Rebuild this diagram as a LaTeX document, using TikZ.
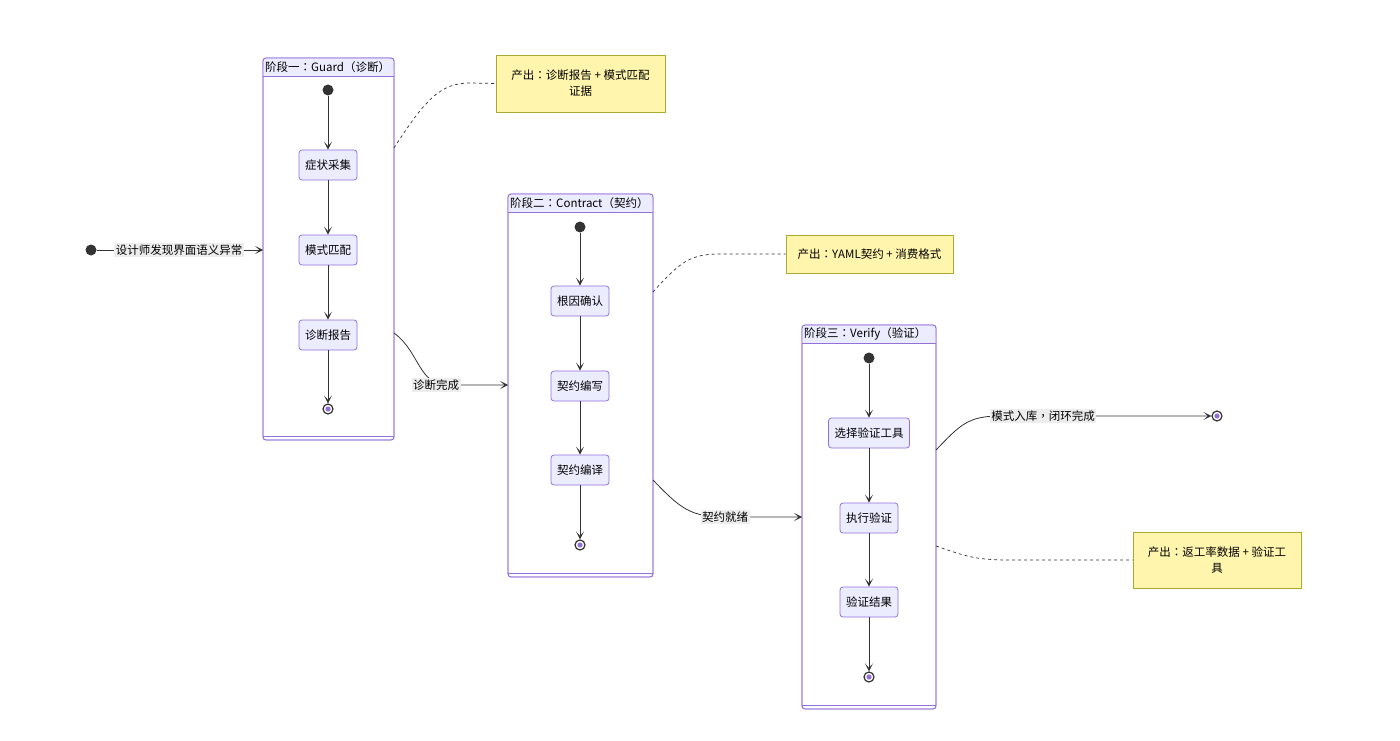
\documentclass[tikz,border=0pt]{standalone}
\usepackage{fontspec}
\setmainfont{Noto Sans CJK SC}
\newfontfamily\tcfont{Noto Sans CJK TC}
\newcommand{\cn}{{\tcfont ：}}
\newcommand{\cm}{{\tcfont ，}}
\usetikzlibrary{arrows.meta,positioning}
\definecolor{pur}{HTML}{9370DB}
\definecolor{lav}{HTML}{ECECFF}
\definecolor{edge}{HTML}{333333}
\definecolor{notefill}{HTML}{FFF5AD}
\definecolor{notedraw}{HTML}{AAAA33}
\definecolor{lblbg}{HTML}{EDEDED}
\tikzset{
  arr/.style={draw=edge, line width=0.8pt, -{Stealth[length=8pt,width=8pt,inset=4.5pt]}},
  flow/.style={draw=edge, line width=0.8pt},
  dashline/.style={draw=edge, line width=0.7pt, dash pattern=on 3pt off 3pt},
  stnode/.style={draw=pur, fill=lav, rounded corners=3pt, line width=0.8pt, minimum height=30pt, inner xsep=6pt, font=\fontsize{11.5}{13}\selectfont, text=black},
  startdot/.style={circle, fill=edge, minimum size=11pt, inner sep=0pt},
  enddot/.style={circle, draw=edge, line width=1.2pt, fill=white, minimum size=10pt, inner sep=0pt, path picture={\fill[pur] (path picture bounding box.center) circle (2.6pt);}},
  cluster/.style={draw=pur, rounded corners=3pt, line width=0.8pt, fill=white},
  ctitle/.style={font=\fontsize{11.5}{13}\selectfont, anchor=west, inner sep=2pt},
  note/.style={draw=notedraw, fill=notefill, line width=0.8pt, font=\fontsize{11.5}{16}\selectfont, align=center},
  lbl/.style={fill=lblbg, inner sep=1.5pt, font=\fontsize{11.5}{13}\selectfont}
}
\begin{document}
\begin{tikzpicture}[x=1pt,y=-1pt]
\useasboundingbox (0,0) rectangle (1400,741);
% clusters
\newcommand{\clusterbox}[5]{% name, x1,y1,x2,y2
  \node[cluster, minimum width=#4-#2, minimum height=#5-#3, inner sep=0pt] (#1) at ({(#2+#4)/2},{(#3+#5)/2}) {};
  \fill[lav, rounded corners=3pt] (#2+0.4,#3+0.4) rectangle (#4-0.4,#3+18);
  \fill[lav] (#2+0.4,#3+10) rectangle (#4-0.4,#3+18);
  \draw[pur, line width=0.8pt, rounded corners=3pt] (#2,#3) rectangle (#4,#5);
  \draw[pur, line width=0.8pt] (#2,#3+18) -- (#4,#3+18);
  \draw[pur, line width=0.8pt] (#2,#5-3.5) -- (#4,#5-3.5);
}
\clusterbox{c1}{263}{58}{394}{440}
\clusterbox{c2}{508}{194}{653}{577}
\clusterbox{c3}{802}{325}{936}{709}
\node[ctitle] (t1) at (263,67) {阶段一\cn Guard（诊断）};
\node[ctitle] (t2) at (508,203) {阶段二\cn Contract（契约）};
\node[ctitle] (t3) at (802,334) {阶段三\cn Verify（验证）};

% outer start
\node[startdot] (s0) at (91,250) {};
\coordinate (c1in) at (263,250);
\draw[arr] (s0) -- (c1in);
\node[lbl] (l0) at (179,250) {设计师发现界面语义异常};

% cluster 1 contents
\node[startdot] (s1) at (328,90) {};
\node[stnode] (a1) at (328,165) {症状采集};
\node[stnode] (a2) at (328,250) {模式匹配};
\node[stnode] (a3) at (328,335) {诊断报告};
\node[enddot] (e1) at (328,409) {};
\draw[arr] (s1) -- (a1);
\draw[arr] (a1) -- (a2);
\draw[arr] (a2) -- (a3);
\draw[arr] (a3) -- (e1);

% cluster 2 contents
\node[startdot] (s2) at (580,227) {};
\node[stnode] (b1) at (580,301) {根因确认};
\node[stnode] (b2) at (580,386) {契约编写};
\node[stnode] (b3) at (580,470) {契约编译};
\node[enddot] (e2) at (580,545) {};
\draw[arr] (s2) -- (b1);
\draw[arr] (b1) -- (b2);
\draw[arr] (b2) -- (b3);
\draw[arr] (b3) -- (e2);

% cluster 3 contents
\node[startdot] (s3) at (869,358) {};
\node[stnode] (d1) at (869,433) {选择验证工具};
\node[stnode] (d2) at (869,518) {执行验证};
\node[stnode] (d3) at (869,602) {验证结果};
\node[enddot] (e3) at (869,677) {};
\draw[arr] (s3) -- (d1);
\draw[arr] (d1) -- (d2);
\draw[arr] (d2) -- (d3);
\draw[arr] (d3) -- (e3);

% final end
\node[enddot] (ef) at (1217,416) {};

% inter-cluster edges
\coordinate (p1) at (394,333);
\coordinate (p2) at (508,385);
\draw[arr] (p1) .. controls (420,352) and (418,385) .. (448,385) -- (p2);
\node[lbl] (l1) at (436,385) {诊断完成};

\coordinate (q1) at (653,480);
\coordinate (q2) at (802,517);
\draw[arr] (q1) .. controls (680,508) and (690,517) .. (725,517) -- (q2);
\node[lbl] (l2) at (725,517) {契约就绪};

\coordinate (r1) at (936,450);
\draw[arr] (r1) .. controls (960,425) and (968,416) .. (1000,416) -- (ef);
\node[lbl] (l3) at (1043,416) {模式入库\cm 闭环完成};

% notes
\node[note, minimum width=169pt, minimum height=57pt] (n1) at (580.5,83.5) {产出\cn 诊断报告 + 模式匹配\\证据};
\node[note, minimum width=167pt, minimum height=38pt] (n2) at (869.5,254) {产出\cn YAML契约 + 消费格式};
\node[note, minimum width=168pt, minimum height=56pt] (n3) at (1217,560) {产出\cn 返工率数据 + 验证工\\具};

\coordinate (u1) at (394,148);
\draw[dashline] (u1) .. controls (425,100) and (440,83) .. (470,83) -- (n1.west);
\coordinate (u2) at (653,292);
\draw[dashline] (u2) .. controls (680,262) and (690,254) .. (720,254) -- (n2.west);
\coordinate (u3) at (936,546);
\draw[dashline] (u3) .. controls (965,556) and (975,560) .. (1010,560) -- (n3.west);
\end{tikzpicture}
\end{document}
